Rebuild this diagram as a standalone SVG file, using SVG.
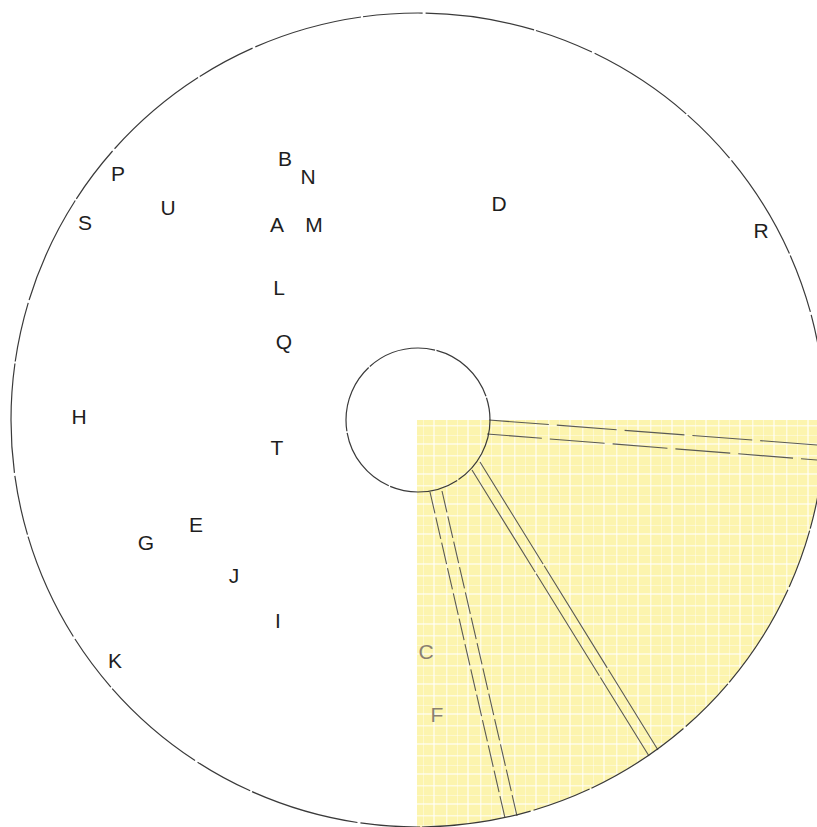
<svg xmlns="http://www.w3.org/2000/svg" width="817" height="827" viewBox="0 0 817 827">
<style>
.lbl{font-family:"Liberation Sans",Arial,sans-serif;font-size:21px;fill:#1e1e1e;text-anchor:middle}
.lbl2{font-family:"Liberation Sans",Arial,sans-serif;font-size:21px;fill:#8a8070;text-anchor:middle}
.circ{fill:none;stroke:#3a3a3a;stroke-width:1.2}
.rad{fill:none;stroke:#5a5a55;stroke-width:1.1}
</style>
<defs>
<pattern id="plaid" patternUnits="userSpaceOnUse" width="34" height="30">
<rect width="34" height="30" fill="#fcf4ae"/>
<rect x="4" y="0" width="1.5" height="30" fill="#ffffff" opacity="0.6"/>
<rect x="15" y="0" width="1" height="30" fill="#ffffff" opacity="0.4"/>
<rect x="25" y="0" width="2" height="30" fill="#ffffff" opacity="0.55"/>
<rect x="0" y="5" width="34" height="1.5" fill="#ffffff" opacity="0.6"/>
<rect x="0" y="15" width="34" height="1" fill="#ffffff" opacity="0.4"/>
<rect x="0" y="23" width="34" height="2" fill="#ffffff" opacity="0.55"/>
</pattern>
<clipPath id="disc"><circle cx="418" cy="420" r="407"/></clipPath>
</defs>
<rect width="817" height="827" fill="#ffffff"/>
<rect x="417" y="420" width="400" height="407" fill="url(#plaid)" clip-path="url(#disc)"/>
<g id="connectors">
<line class="rad" x1="489" y1="420" x2="817" y2="445" stroke-dasharray="60 8"/>
<line class="rad" x1="487" y1="434" x2="817" y2="460" stroke-dasharray="55 8"/>
<line class="rad" x1="472" y1="470" x2="649" y2="756" stroke-dasharray="120 2"/>
<line class="rad" x1="480" y1="462" x2="658" y2="750" stroke-dasharray="120 2"/>
<line class="rad" x1="430" y1="492" x2="505" y2="818" stroke-dasharray="22 4"/>
<line class="rad" x1="442" y1="491" x2="517" y2="816" stroke-dasharray="22 4"/>
</g>
<g id="outer-circle"><circle class="circ" cx="418" cy="420" r="407" stroke-dasharray="110 2 60 3"/></g>
<g id="inner-circle"><circle class="circ" cx="418" cy="420" r="72" stroke-dasharray="70 1.5"/></g>
<g id="P"><text class="lbl" x="118" y="181">P</text></g>
<g id="B"><text class="lbl" x="285" y="166">B</text></g>
<g id="N"><text class="lbl" x="308" y="184">N</text></g>
<g id="S"><text class="lbl" x="85" y="230">S</text></g>
<g id="U"><text class="lbl" x="168" y="215">U</text></g>
<g id="A"><text class="lbl" x="277" y="232">A</text></g>
<g id="M"><text class="lbl" x="314" y="232">M</text></g>
<g id="D"><text class="lbl" x="499" y="211">D</text></g>
<g id="R"><text class="lbl" x="761" y="238">R</text></g>
<g id="L"><text class="lbl" x="279" y="295">L</text></g>
<g id="Q"><text class="lbl" x="284" y="349">Q</text></g>
<g id="H"><text class="lbl" x="79" y="424">H</text></g>
<g id="T"><text class="lbl" x="277" y="455">T</text></g>
<g id="E"><text class="lbl" x="196" y="532">E</text></g>
<g id="G"><text class="lbl" x="146" y="550">G</text></g>
<g id="J"><text class="lbl" x="234" y="583">J</text></g>
<g id="I"><text class="lbl" x="278" y="628">I</text></g>
<g id="K"><text class="lbl" x="115" y="668">K</text></g>
<g id="C"><text class="lbl2" x="426" y="659">C</text></g>
<g id="F"><text class="lbl2" x="437" y="722">F</text></g>
</svg>
